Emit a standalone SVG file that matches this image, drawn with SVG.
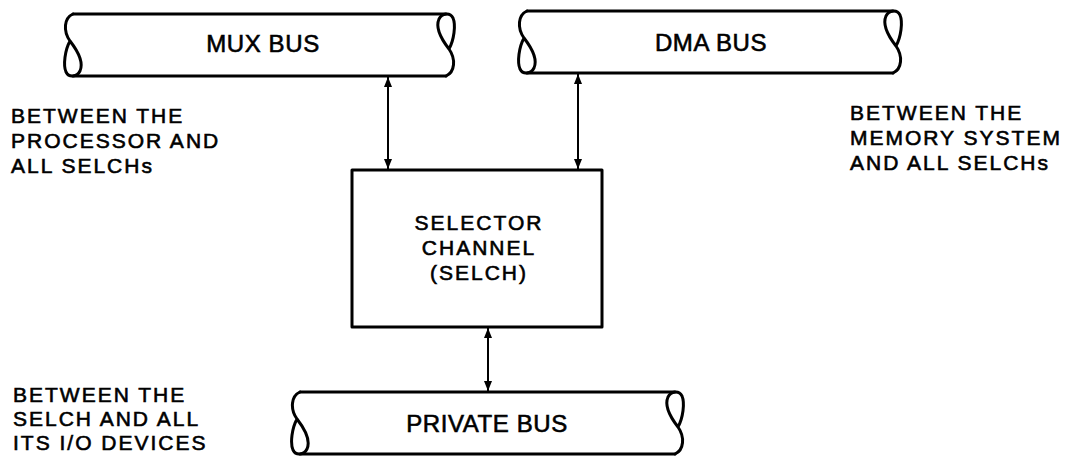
<svg xmlns="http://www.w3.org/2000/svg" width="1073" height="456" viewBox="0 0 1073 456">
<style>
.line{fill:none;stroke:#000;stroke-width:3;stroke-linecap:round;stroke-linejoin:round}
.conn{fill:none;stroke:#000;stroke-width:2}
text{font-family:"Liberation Sans",Arial,sans-serif;font-size:21px;fill:#000;stroke:#000;stroke-width:0.6;letter-spacing:2px}
.c{text-anchor:middle}
.bus{font-size:24px;letter-spacing:0.6px}
</style>
<defs>
<path id="end" class="line" d="M 10,0 C 1,4 0,17 7,27 C 14,36 21,48 17,57 C 14,63 6,64 3,58 C 0,51 2,36 7,27"/>
<marker id="ah" viewBox="0 0 10 10" refX="10" refY="5" markerWidth="10" markerHeight="10" markerUnits="userSpaceOnUse" orient="auto-start-reverse">
<path d="M0,1 L10,5 L0,9 Z" fill="#000"/>
</marker>
</defs>
<rect width="1073" height="456" fill="#fff"/>
<g id="mux-bus">
<use href="#end" transform="translate(63,14)"/>
<use href="#end" transform="translate(456,76) rotate(180)"/>
<path class="line" d="M73,14 H446 M73,76 H446"/>
<text class="c bus" x="263" y="52">MUX BUS</text>
</g>
<g id="dma-bus">
<use href="#end" transform="translate(517,11)"/>
<use href="#end" transform="translate(903,73) rotate(180)"/>
<path class="line" d="M527,11 H893 M527,73 H893"/>
<text class="c bus" x="711" y="51">DMA BUS</text>
</g>
<g id="selch">
<rect class="line" x="352" y="170" width="250" height="157"/>
<text class="c" x="479" y="230">SELECTOR</text>
<text class="c" x="479" y="255">CHANNEL</text>
<text class="c" x="479" y="280">(SELCH)</text>
</g>
<g id="private-bus">
<use href="#end" transform="translate(290,392)"/>
<use href="#end" transform="translate(685,454) rotate(180)"/>
<path class="line" d="M300,392 H675 M300,454 H675"/>
<text class="c bus" x="487" y="432">PRIVATE BUS</text>
</g>
<g id="label-mux">
<text x="11" y="123">BETWEEN THE</text>
<text x="11" y="148">PROCESSOR AND</text>
<text x="11" y="173">ALL SELCHs</text>
</g>
<g id="label-dma">
<text x="850" y="120">BETWEEN THE</text>
<text x="850" y="145">MEMORY SYSTEM</text>
<text x="850" y="170">AND ALL SELCHs</text>
</g>
<g id="label-private">
<text x="13" y="402">BETWEEN THE</text>
<text x="13" y="426">SELCH AND ALL</text>
<text x="13" y="450">ITS I/O DEVICES</text>
</g>
<g id="connectors">
<line class="conn" x1="388" y1="77" x2="388" y2="169" marker-start="url(#ah)" marker-end="url(#ah)"/>
<line class="conn" x1="578" y1="74" x2="578" y2="169" marker-start="url(#ah)" marker-end="url(#ah)"/>
<line class="conn" x1="488" y1="328" x2="488" y2="391" marker-start="url(#ah)" marker-end="url(#ah)"/>
</g>
</svg>
